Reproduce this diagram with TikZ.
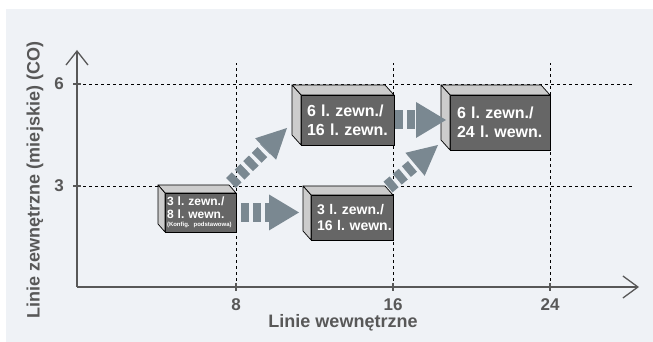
\documentclass[tikz,border=0pt]{standalone}
\usepackage{fontspec}
\setmainfont{Liberation Sans}
\usepackage{xcolor}
\usetikzlibrary{
	arrows.meta,
}

\definecolor{bgcol}{RGB}{239,242,246}
\definecolor{labelgray}{RGB}{88,88,88}
\definecolor{frontgray}{RGB}{102,102,102}
\definecolor{sidegray}{RGB}{204,204,204}
\definecolor{arrowgray}{RGB}{122,136,145}

\frenchspacing

\tikzset{
	axisline/.style={draw=labelgray, line width=1.3pt},
	gridline/.style={draw=black, line width=0.7pt, dash pattern=on 3pt off 3pt},
	ticklabel/.style={text=labelgray, font=\fontsize{17}{17}\selectfont\bfseries},
	axislabel/.style={text=labelgray, font=\fontsize{18}{18}\selectfont\bfseries},
	cube/.style={draw=black, line width=0.7pt, fill=frontgray, text=white,
		inner sep=0pt, outer sep=0pt, align=left},
	sideface/.style={draw=black, line width=0.7pt, fill=sidegray, line join=round},
	hblock/.style={draw=arrowgray, line width=19pt, dash pattern=on 8pt off 4pt,
		-{Triangle[length=30pt,width=36pt,line width=0pt]}},
	dblock/.style={draw=arrowgray, line width=14pt, dash pattern=on 8pt off 4pt,
		-{Triangle[length=30pt,width=30pt,line width=0pt]}},
}

% top and left face of a box: node, dx, dy
\newcommand{\boxsides}[3]{
	\draw[sideface] (#1.north west) -- ++(-#2,#3) -- ([shift={(-#2,#3)}]#1.north east) -- (#1.north east) -- cycle;
	\draw[sideface] (#1.north west) -- ++(-#2,#3) -- ([shift={(-#2,#3)}]#1.south west) -- (#1.south west) -- cycle;
}

\begin{document}
\begin{tikzpicture}[x=1pt,y=1pt]
	\useasboundingbox (0,0) rectangle (653,342);
	\fill[bgcol] (6,0) rectangle (653,333);

	% grid
	\draw[gridline] (77,258) -- (633,258);
	\draw[gridline] (77,156) -- (633,156);
	\draw[gridline] (236,55) -- (236,279);
	\draw[gridline] (393,55) -- (393,279);
	\draw[gridline] (550,55) -- (550,279);

	% axes
	\coordinate (O) at (77,55);
	\coordinate (xend) at (639,55);
	\coordinate (yend) at (77,292);
	\draw[axisline, -{Straight Barb[length=15pt,width=22pt]}] (O) -- (xend);
	\draw[axisline, -{Straight Barb[length=14pt,width=22pt]}] (O) -- (yend);
	\draw[axisline] (73,258) -- (81,258);
	\draw[axisline] (73,156) -- (81,156);
	\draw[axisline] (236,51) -- (236,59);
	\draw[axisline] (393,51) -- (393,59);
	\draw[axisline] (550,51) -- (550,59);

	\node[ticklabel] (t6) at (59,258) {6};
	\node[ticklabel] (t3) at (59,156) {3};
	\node[ticklabel] (t8) at (236,37) {8};
	\node[ticklabel] (t16) at (393,37) {16};
	\node[ticklabel] (t24) at (550,37) {24};
	\node[axislabel] (xlab) at (343,19) {Linie wewnętrzne};
	\node[axislabel, rotate=90] (ylab) at (35,162) {Linie zewnętrzne (miejskie) (CO)};

	% boxes
	\node[cube, minimum width=71pt, minimum height=39pt, text width=67pt,
		font=\fontsize{12}{13}\selectfont\bfseries] (b1) at (200.5,129.5)
		{\mbox{3 l. zewn./}\\\mbox{8 l. wewn.}\\[-5pt]\mbox{\fontsize{6}{7}\selectfont(Konfig. podstawowa)}};
	\boxsides{b1}{7}{8}

	\node[cube, minimum width=82pt, minimum height=45pt, text width=70pt,
		font=\fontsize{14}{16.5}\selectfont\bfseries] (b2) at (352,124.5)
		{\mbox{3 l. zewn./}\\\mbox{16 l. wewn.}};
	\boxsides{b2}{8}{9}

	\node[cube, minimum width=93pt, minimum height=50pt, text width=81pt,
		font=\fontsize{16}{19}\selectfont\bfseries] (b3) at (347.5,222)
		{\mbox{6 l. zewn./}\\\mbox{16 l. zewn.}};
	\boxsides{b3}{9}{10}

	\node[cube, minimum width=100pt, minimum height=55pt, text width=86pt,
		font=\fontsize{16}{18.5}\selectfont\bfseries] (b4) at (500,219.5)
		{\mbox{6 l. zewn./}\\\mbox{24 l. wewn.}};
	\boxsides{b4}{9}{10}

	% arrows
	\draw[hblock, shorten <=5pt, shorten >=12pt] (b1) -- (b1 -| b2.west);
	\draw[hblock, shorten <=1pt, shorten >=4pt] (b3) -- (b3 -| b4.west);
	\draw[dblock] ([shift={(-5,10)}]b1.north east) -- ([shift={(-14,17)}]b3.south west);
	\draw[dblock] ([shift={(-5,8)}]b2.north east) -- ([shift={(-12,5)}]b4.south west);
\end{tikzpicture}
\end{document}
